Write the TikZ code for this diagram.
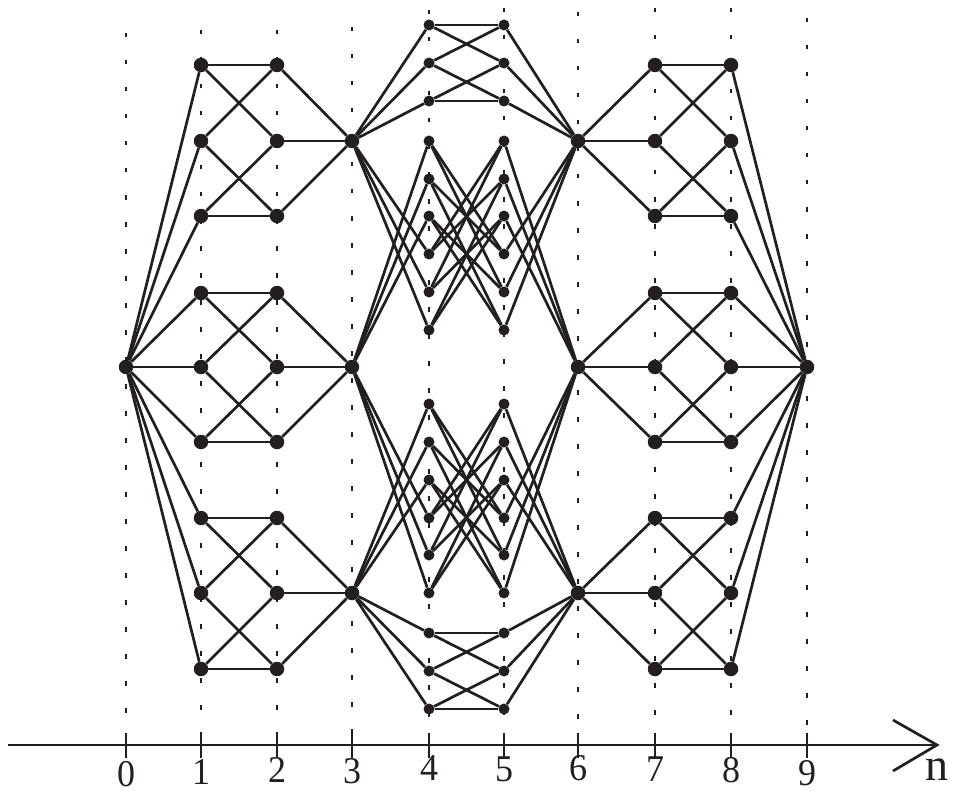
\documentclass[tikz,border=0pt]{standalone}
\usepackage{fontspec}
\setmainfont{Liberation Serif}
\definecolor{ink}{RGB}{35,31,32}
\begin{document}
\begin{tikzpicture}[x=1pt,y=-1pt,
  edge/.style={ink,line width=2.7pt},
  bigdot/.style={circle,fill=ink,inner sep=0pt,minimum size=14.5pt},
  smalldot/.style={circle,fill=ink,inner sep=0pt,minimum size=11pt},
  guide/.style={ink,line width=2.2pt,dash pattern=on 4.5pt off 22.5pt},
  tickmark/.style={ink,line width=2.2pt},
  lab/.style={ink,font=\fontsize{36}{36}\selectfont,inner sep=0pt,yscale=1.05},
  nlab/.style={ink,font=\fontsize{46}{46}\selectfont,inner sep=0pt}]
\useasboundingbox (0,0) rectangle (959,797);
% guides and ticks
\foreach \c/\x/\t in {0/126/33,1/201/30,2/277/30,3/352/27,4/429/10,5/504/8,6/578/12,7/655/8,8/731/8,9/807/18}{
  \draw[guide] (\x,\t) -- (\x,733);
  \draw[tickmark] (\x,733) -- (\x,758);
}
% axis
\coordinate (axs) at (8,745);
\coordinate (axe) at (937,745);
\coordinate (aw1) at (893,720);
\coordinate (aw2) at (893,771);
\draw[edge] (axs) -- (axe);
\draw[edge] (aw1) -- (axe) -- (aw2);
% labels
\foreach \c/\x/\y in {0/126/774,1/201/772,2/277/770,3/352/771,4/429/768,5/504/769,6/578/768,7/655/769,8/731/770,9/807/773}
  \node[lab] (l\c) at (\x,\y) {\c};
\node[nlab] (ln) at (937,770) {n};
% nodes
\node[bigdot] (n0) at (126,367) {};
\node[bigdot] (n9) at (807,367) {};
\foreach \c/\x in {1/201,2/277,7/655,8/731}{
  \foreach \k/\y in {1/65,2/141,3/216,4/293,5/367,6/442,7/518,8/593,9/669}
    \node[bigdot] (n\c-\k) at (\x,\y) {};
}
\foreach \c/\x in {3/352,6/578}{
  \foreach \k/\y in {1/141,2/367,3/593}
    \node[bigdot] (n\c-\k) at (\x,\y) {};
}
\foreach \c/\x in {4/429,5/504}{
  \foreach \k/\y in {1/25,2/63,3/101,4/141,5/179,6/216,7/254,8/292,9/330,10/404,11/442,12/480,13/518,14/555,15/593,16/633,17/671,18/709}
    \node[smalldot] (n\c-\k) at (\x,\y) {};
}
% edges: outer fans
\foreach \k in {1,...,9}{
  \draw[edge] (n0) -- (n1-\k);
  \draw[edge] (n8-\k) -- (n9);
}
% 3x3 groups cols 1-2 and 7-8
\foreach \g in {0,3,6}{
  \foreach \a/\b in {1/1,1/2,2/1,2/3,3/2,3/3}{
    \pgfmathtruncatemacro\ia{\g+\a}
    \pgfmathtruncatemacro\ib{\g+\b}
    \draw[edge] (n1-\ia) -- (n2-\ib);
    \draw[edge] (n7-\ia) -- (n8-\ib);
  }
}
% cols 2-3 and 6-7
\foreach \s/\k in {1/1,1/2,1/3,2/4,2/5,2/6,3/7,3/8,3/9}{
  \draw[edge] (n2-\k) -- (n3-\s);
  \draw[edge] (n6-\s) -- (n7-\k);
}
% cols 3-4 and 5-6
\foreach \s/\k in {1/1,1/2,1/3,1/7,1/8,1/9,2/4,2/5,2/6,2/13,2/14,2/15,3/10,3/11,3/12,3/16,3/17,3/18}{
  \draw[edge] (n3-\s) -- (n4-\k);
  \draw[edge] (n5-\k) -- (n6-\s);
}
% cols 4-5
\foreach \ga/\gb in {0/0,3/6,6/3,9/12,12/9,15/15}{
  \foreach \a/\b in {1/1,1/2,2/1,2/3,3/2,3/3}{
    \pgfmathtruncatemacro\ia{\ga+\a}
    \pgfmathtruncatemacro\ib{\gb+\b}
    \draw[edge] (n4-\ia) -- (n5-\ib);
  }
}
\end{tikzpicture}
\end{document}
